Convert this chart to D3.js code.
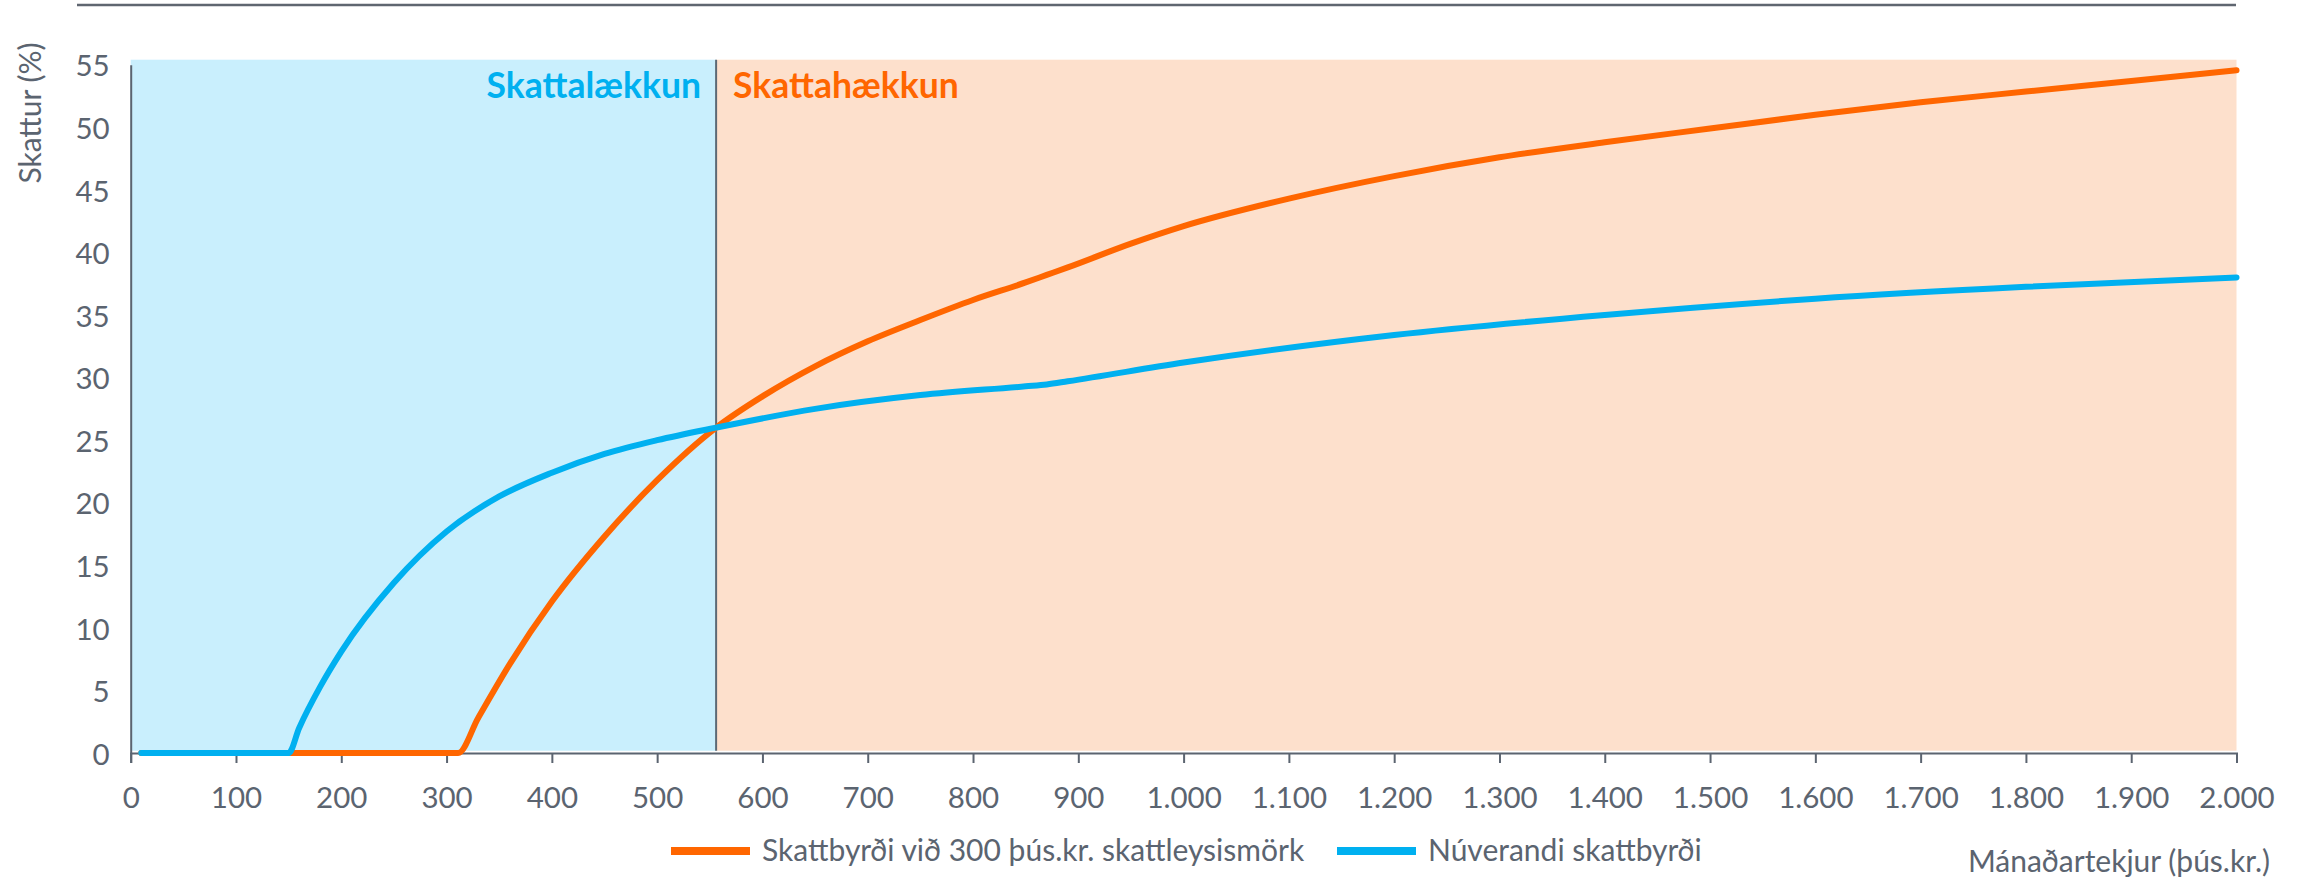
<!DOCTYPE html>
<html>
<head>
<meta charset="utf-8">
<script src="https://cdn.jsdelivr.net/npm/d3@7"></script>
<style>
  body { margin: 0; background: #fff; }
  svg { display: block; font-family: Lato, "Open Sans", sans-serif; }
  .axis text { fill: #5b6470; font-size: 29.5px; font-family: Lato, sans-serif; }
  .axis path, .axis line { stroke: #5b6470; stroke-width: 2; }
  .label { fill: #5b6470; font-size: 30px; }
</style>
</head>
<body>
<svg width="2300" height="879"></svg>
<script>
// **** data ****
var incomeBlue = [10, 150, 160, 180, 200, 250, 300, 350, 400, 450, 500, 556, 650, 750, 850, 870, 890, 1000, 1200, 1400, 1600, 1800, 2000];
var taxBlue = [0, 0, 2.0, 5.3, 8.1, 13.6, 17.7, 20.5, 22.4, 23.9, 25.0, 26.0, 27.5, 28.6, 29.3, 29.45, 29.7, 31.2, 33.4, 35.0, 36.3, 37.25, 38.0];

var incomeOrange = [10, 311, 330, 360, 400, 450, 500, 556, 600, 650, 700, 750, 800, 850, 870, 890, 950, 1000, 1100, 1200, 1300, 1400, 1500, 1600, 1700, 1800, 1900, 2000];
var taxOrange = [0, 0, 2.8, 7.1, 12.1, 17.3, 21.8, 26.0, 28.5, 30.9, 32.9, 34.6, 36.2, 37.6, 38.2, 38.8, 40.7, 42.1, 44.3, 46.1, 47.6, 48.8, 49.9, 51.0, 52.0, 52.85, 53.7, 54.55];

var zoneStart = [0, 556];
var zoneEnd = [556, 2000];
var zoneLabels = ['Skattalækkun', 'Skattahækkun'];

var seriesNames = ['Skattbyrði við 300 þús.kr. skattleysismörk', 'Núverandi skattbyrði'];
var xTicks = d3.range(0, 2001, 100);
var yTicks = d3.range(0, 56, 5);

// **** scales ****
var xScale = d3.scaleLinear().domain([0, 2000]).range([130.7, 2236.5]);
var yScale = d3.scaleLinear().domain([0, 55]).range([753, 64.7]);

var isl = d3.formatLocale({ decimal: ',', thousands: '.', grouping: [3], currency: ['', ''] });
var fmt = isl.format(',d');

var svg = d3.select('svg');

// top rule
svg.append('line')
    .attr('x1', 77).attr('x2', 2236)
    .attr('y1', 5).attr('y2', 5)
    .style('stroke', '#5f6670').style('stroke-width', 2.5);

// shaded zones
var zoneColors = ['#c9effd', '#fde0cc'];
svg.append('g').selectAll('rect')
    .data(zoneStart)
    .enter()
    .append('rect')
    .attr('x', function (d) { return xScale(d); })
    .attr('width', function (d, i) { return xScale(zoneEnd[i]) - xScale(d); })
    .attr('y', yScale(55.4))
    .attr('height', yScale(0.18) - yScale(55.4))
    .style('fill', function (d, i) { return zoneColors[i]; });

// divider
svg.append('line')
    .attr('x1', xScale(zoneEnd[0])).attr('x2', xScale(zoneEnd[0]))
    .attr('y1', yScale(55.4)).attr('y2', yScale(0.18))
    .style('stroke', '#5b6975').style('stroke-width', 2);

// zone labels
svg.append('text')
    .attr('x', xScale(zoneEnd[0]) - 15).attr('y', 98)
    .attr('text-anchor', 'end')
    .style('font-weight', 'bold').style('font-size', '35.5px')
    .style('fill', '#00b0f0')
    .text(zoneLabels[0]);

svg.append('text')
    .attr('x', xScale(zoneStart[1]) + 17).attr('y', 98)
    .style('font-weight', 'bold').style('font-size', '35.5px')
    .style('fill', '#ff6600')
    .text(zoneLabels[1]);

// axes
svg.append('g').attr('class', 'x axis')
    .attr('transform', 'translate(0,' + yScale(0) + ')')
    .call(d3.axisBottom(xScale).tickValues(xTicks).tickFormat(fmt)
        .tickSize(10).tickSizeOuter(10).tickPadding(24));

svg.append('g').attr('class', 'y axis')
    .attr('transform', 'translate(' + xScale(0) + ',0)')
    .call(d3.axisLeft(yScale).tickValues(yTicks)
        .tickSize(0).tickPadding(21));

svg.selectAll('.y.axis text').attr('dy', '0.38em');

// lines
var line = d3.line()
    .x(function (d) { return xScale(d[0]); })
    .y(function (d) { return yScale(d[1]); })
    .curve(d3.curveMonotoneX);

svg.append('path')
    .datum(d3.zip(incomeOrange, taxOrange))
    .attr('d', line)
    .style('fill', 'none').style('stroke', '#ff6600')
    .style('stroke-width', 6).style('stroke-linecap', 'round');

svg.append('path')
    .datum(d3.zip(incomeBlue, taxBlue))
    .attr('d', line)
    .style('fill', 'none').style('stroke', '#00b0f0')
    .style('stroke-width', 6).style('stroke-linecap', 'round');

// legend
var legendX = [671, 1337];
var legendColors = ['#ff6600', '#00b0f0'];
var legend = svg.append('g').selectAll('g')
    .data(seriesNames)
    .enter()
    .append('g')
    .attr('transform', function (d, i) { return 'translate(' + legendX[i] + ',851)'; });

legend.append('line')
    .attr('x1', 0).attr('x2', 79)
    .style('stroke', function (d, i) { return legendColors[i]; })
    .style('stroke-width', 8);

legend.append('text')
    .attr('class', 'label')
    .attr('x', 91).attr('y', 10)
    .text(function (d) { return d; });

// axis titles
svg.append('text')
    .attr('class', 'label')
    .attr('transform', 'translate(41,113) rotate(-90)')
    .attr('text-anchor', 'middle')
    .text('Skattur (%)');

svg.append('text')
    .attr('class', 'label')
    .attr('x', 2270).attr('y', 872)
    .attr('text-anchor', 'end')
    .text('Mánaðartekjur (þús.kr.)');
</script>
</body>
</html>
